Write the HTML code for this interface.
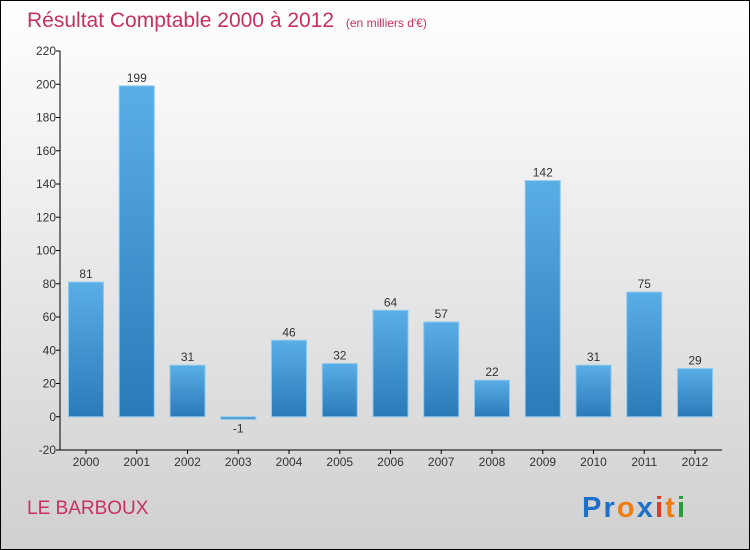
<!DOCTYPE html>
<html><head><meta charset="utf-8"><style>
body{margin:0;}
svg{display:block;font-family:"Liberation Sans",sans-serif;}
</style></head><body>
<svg id="chart" width="750" height="550" viewBox="0 0 750 550">
<defs>
<linearGradient id="bg" x1="0" y1="0" x2="0" y2="1"><stop offset="0" stop-color="#ffffff"/><stop offset="1" stop-color="#d0d0d0"/></linearGradient>
<linearGradient id="bar" x1="0" y1="0" x2="0" y2="1"><stop offset="0" stop-color="#5aaee6"/><stop offset="1" stop-color="#2a7ab8"/></linearGradient>
</defs>
<rect x="0.5" y="0.5" width="749" height="549" fill="url(#bg)" stroke="#000"/>
<text x="27" y="27" font-size="21" fill="#c8305f">Résultat Comptable 2000 à 2012 <tspan font-size="12" dx="6">(en milliers d'€)</tspan></text>
<text x="27" y="514" font-size="19" fill="#c8305f">LE BARBOUX</text>
<text x="582" y="517" font-size="29" font-weight="bold" textLength="103"><tspan fill="#1e6fc8">Pr</tspan><tspan fill="#f07c10">o</tspan><tspan fill="#1e6fc8">x</tspan><tspan fill="#e03a20">i</tspan><tspan fill="#f07c10">t</tspan><tspan fill="#2a9a3a">i</tspan></text>
<g id="axes"></g>
<g id="bars"></g>
</svg>
<script>
const years=["2000","2001","2002","2003","2004","2005","2006","2007","2008","2009","2010","2011","2012"];
const values=[81,199,31,-1,46,32,64,57,22,142,31,75,29];
const yTicks=[-20,0,20,40,60,80,100,120,140,160,180,200,220];
const NS="http://www.w3.org/2000/svg";
const yMin=-20,yMax=220,pyTop=51,pyBot=450;
function y(v){return pyBot-(v-yMin)/(yMax-yMin)*(pyBot-pyTop);}
const x0=60,step=50.75;
function x(i){return 86+i*step;}
function mk(t,a,p){const e=document.createElementNS(NS,t);for(const k in a)e.setAttribute(k,a[k]);p.appendChild(e);return e;}
const ax=document.getElementById('axes'),bg=document.getElementById('bars');
const yl=mk('line',{x1:x0,y1:pyTop,x2:x0,y2:pyBot,stroke:'#000'},ax);


yTicks.forEach(v=>{
 mk('line',{x1:x0-4,y1:y(v),x2:x0,y2:y(v),stroke:'#000'},ax);
 const t=mk('text',{x:x0-4,y:y(v)+4,'font-size':12,'text-anchor':'end',fill:'#333'},ax);
 t.textContent=v;
 
 
});
const xl=mk('line',{x1:x0,y1:pyBot,x2:722,y2:pyBot,stroke:'#000'},ax);


years.forEach((yr,i)=>{
 mk('line',{x1:x(i),y1:pyBot,x2:x(i),y2:pyBot+4,stroke:'#000'},ax);
 const t=mk('text',{x:x(i),y:pyBot+16,'font-size':12,'text-anchor':'middle',fill:'#333'},ax);
 t.textContent=yr;
 
 
 const v=values[i],top=Math.min(y(v),y(0)),h=Math.abs(y(v)-y(0));
 const r=mk('rect',{x:x(i)-17.5,y:top,width:35,height:Math.max(h,2.5),fill:'url(#bar)',stroke:'#8cc8f0','stroke-width':1},bg);
 
 
 const l=mk('text',{x:x(i),y:v>=0?y(v)-4:y(v)+14,'font-size':12,'text-anchor':'middle',fill:'#333'},bg);
 l.textContent=v;
 
 
});
</script>
</body></html>
